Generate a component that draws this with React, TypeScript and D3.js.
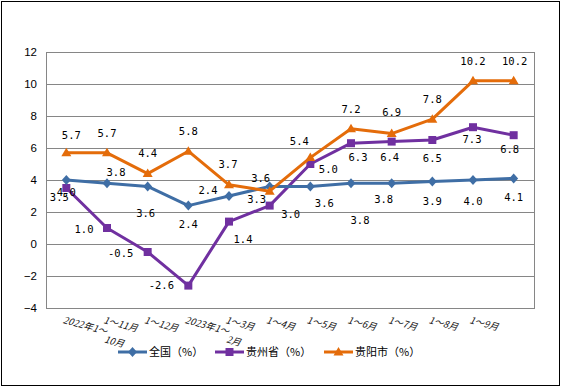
import React, { useEffect, useRef } from "react";
import * as d3 from "d3";

const W = 562;
const H = 388;
const margin = { top: 52, right: 28, bottom: 80, left: 46 };
const plotW = W - margin.left - margin.right;
const plotH = 308 - margin.top;

// data
const categories = [
  "2022年1～10月", "1～11月", "1～12月", "2023年1～2月", "1～3月", "1～4月",
  "1～5月", "1～6月", "1～7月", "1～8月", "1～9月", "",
];
const nationalValues = [4.0, 3.8, 3.6, 2.4, 3.0, 3.6, 3.6, 3.8, 3.8, 3.9, 4.0, 4.1];
const guizhouValues = [3.5, 1.0, -0.5, -2.6, 1.4, 2.4, 5.0, 6.3, 6.4, 6.5, 7.3, 6.8];
const guiyangValues = [5.7, 5.7, 4.4, 5.8, 3.7, 3.3, 5.4, 7.2, 6.9, 7.8, 10.2, 10.2];
// label texts as printed on the chart
const nationalLabels = ["4.0", "3.8", "3.6", "2.4", "2.4", "3.6", "3.6", "3.8", "3.8", "3.9", "4.0", "4.1"];
const guizhouLabels = ["3.5", "1.0", "-0.5", "-2.6", "1.4", "3.0", "5.0", "6.3", "6.4", "6.5", "7.3", "6.8"];
const guiyangLabels = ["5.7", "5.7", "4.4", "5.8", "3.7", "3.3", "5.4", "7.2", "6.9", "7.8", "10.2", "10.2"];
const yTicks = [-4, -2, 0, 2, 4, 6, 8, 10, 12];

// label offsets (placement only)
const nationalOffsets = [[0, 12], [9, -11], [-2, 27], [0, 19], [-21, -6], [-9, -8], [14, 17], [9, 37], [-8, 16], [0, 20], [0, 21], [0, 19]];
const guizhouOffsets = [[-7, 9], [-23, 1], [-27, 1], [-27, 0], [14, 18], [21, 9], [18, 5], [7, 14], [-2, 16], [0, 18], [-1, 12], [-4, 14]];
const guiyangOffsets = [[5, -17], [0, -19], [0, -20], [0, -20], [-1, -20], [-13, 8], [-11, -16], [0, -19], [0, -21], [0, -20], [0, -19], [1, -19]];

const series = [
  { name: "贵州省（%）", values: guizhouValues, labels: guizhouLabels, offsets: guizhouOffsets, color: "#7030A0", marker: "square" },
  { name: "全国（%）", values: nationalValues, labels: nationalLabels, offsets: nationalOffsets, color: "#3F6EA5", marker: "diamond" },
  { name: "贵阳市（%）", values: guiyangValues, labels: guiyangLabels, offsets: guiyangOffsets, color: "#E46C0A", marker: "triangle" },
];
const legendOrder = [1, 0, 2];
const legendX = [118, 215, 324];

function markerPath(type: string) {
  if (type === "square") return d3.symbol(d3.symbolSquare, 64)();
  if (type === "diamond") return "M0,-5L4.5,0L0,5L-4.5,0Z";
  return "M0,-5L5,3.5L-5,3.5Z";
}

function renderChart(svgEl: SVGSVGElement) {
  const svg = d3.select(svgEl);
  svg.selectAll("*").remove();

  svg.append("rect")
    .attr("x", 1.5).attr("y", 1.5)
    .attr("width", W - 4).attr("height", H - 4)
    .attr("fill", "#fff").attr("stroke", "#000").attr("stroke-width", 1);

  const g = svg.append("g").attr("transform", `translate(${margin.left},${margin.top})`);

  const x = d3.scaleBand().domain(categories.map((_, i) => String(i))).range([0, plotW]).padding(0);
  const cx = (i: number) => (x(String(i)) as number) + x.bandwidth() / 2;
  const y = d3.scaleLinear().domain([-4, 12]).range([plotH, 0]);

  // gridlines
  g.selectAll(".grid").data(yTicks).enter().append("line")
    .attr("x1", 0).attr("x2", plotW)
    .attr("y1", d => y(d) + 0.5).attr("y2", d => y(d) + 0.5)
    .attr("stroke", "#868686").attr("stroke-width", 1);
  g.append("rect")
    .attr("x", 0.5).attr("y", 0.5).attr("width", plotW).attr("height", plotH)
    .attr("fill", "none").attr("stroke", "#868686");

  // y labels
  g.selectAll(".ytick").data(yTicks).enter().append("text")
    .attr("x", -9).attr("y", d => y(d))
    .attr("dy", "0.35em")
    .attr("text-anchor", "end")
    .style("font-family", "Liberation Sans, Arial, sans-serif")
    .style("font-size", "11.5px")
    .text(d => (d < 0 ? "−" + Math.abs(d) : String(d)));

  // x labels
  categories.forEach((c, i) => {
    if (!c) return;
    const t = g.append("text")
      .attr("transform", `translate(${cx(i) - 4},${plotH + 15}) rotate(15)`)
      .style("font-family", "Noto Sans CJK SC, sans-serif")
      .style("font-size", "9.5px")
      .style("font-style", "italic")
      .attr("fill", "#111");
    const idx = c.indexOf("～");
    if (c.startsWith("20")) {
      // wrapped label, second line continues to the right
      t.append("tspan").attr("x", 0).attr("y", 0).text(c.slice(0, idx + 1));
      t.append("tspan").attr("x", 45).attr("y", 8).text(c.slice(idx + 1));
    } else {
      t.text(c);
    }
  });

  const line = d3.line<number>().x((_, i) => cx(i)).y(d => y(d));

  series.forEach(s => {
    g.append("path")
      .datum(s.values)
      .attr("d", line)
      .attr("fill", "none")
      .attr("stroke", s.color)
      .attr("stroke-width", 3)
      .attr("stroke-linejoin", "round");
    g.selectAll(null).data(s.values).enter().append("path")
      .attr("d", markerPath(s.marker))
      .attr("transform", (d, i) => `translate(${cx(i)},${y(d)})`)
      .attr("fill", s.color);
  });

  // data labels
  series.forEach(s => {
    g.selectAll(null).data(s.values).enter().append("text")
      .attr("x", (d, i) => cx(i) + s.offsets[i][0])
      .attr("y", (d, i) => y(d) + s.offsets[i][1])
      .attr("dy", "0.35em")
      .attr("text-anchor", "middle")
      .style("font-family", "DejaVu Sans Mono, monospace")
      .style("font-size", "10.5px")
      .attr("fill", "#000")
      .text((d, i) => s.labels[i]);
  });

  // legend
  const lg = svg.append("g").attr("transform", "translate(0,352)");
  legendOrder.forEach((si, k) => {
    const s = series[si];
    const lx = legendX[k];
    lg.append("line")
      .attr("x1", lx).attr("x2", lx + 29).attr("y1", 0).attr("y2", 0)
      .attr("stroke", s.color).attr("stroke-width", 3);
    lg.append("path")
      .attr("d", markerPath(s.marker))
      .attr("transform", `translate(${lx + 14.5},0)`)
      .attr("fill", s.color);
    lg.append("text")
      .attr("x", lx + 31).attr("y", 0).attr("dy", "0.36em")
      .style("font-family", "Noto Sans CJK SC, sans-serif")
      .style("font-size", "11px")
      .text(s.name);
  });
}

export default function App() {
  const svgRef = useRef<SVGSVGElement>(null);
  useEffect(() => {
    if (svgRef.current) renderChart(svgRef.current);
  }, []);
  return (
    <div style={{ position: "absolute", left: 0, top: 0 }}>
      <svg ref={svgRef} width={W} height={H} style={{ display: "block" }}></svg>
    </div>
  );
}
